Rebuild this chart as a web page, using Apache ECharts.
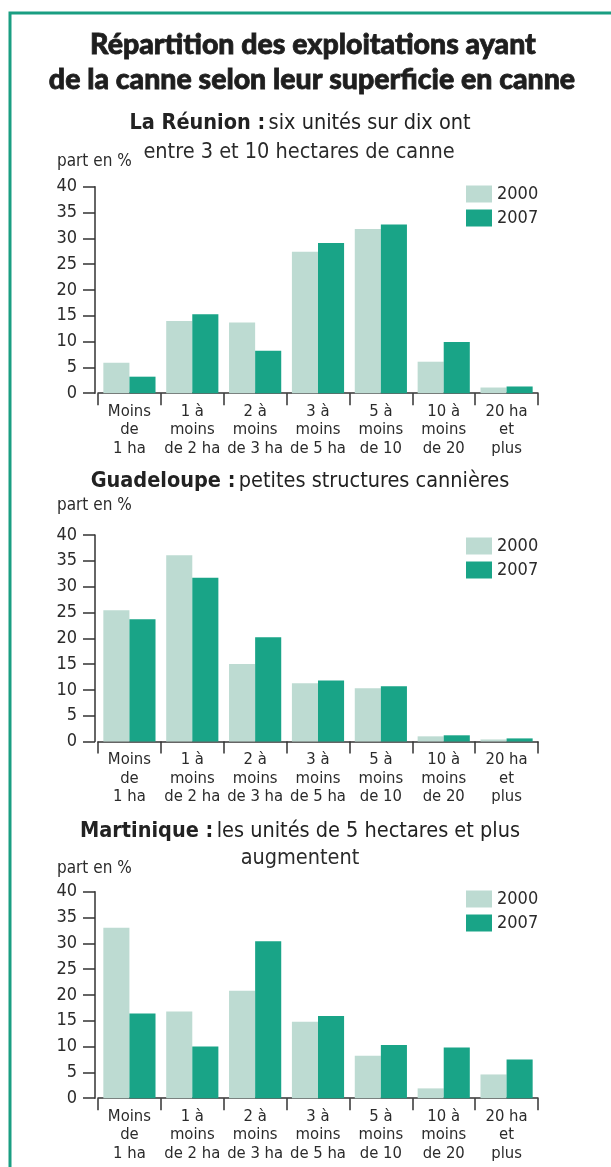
<!DOCTYPE html>
<html>
<head>
<meta charset="utf-8">
<script src="https://cdn.jsdelivr.net/npm/echarts@6/dist/echarts.min.js"></script>
<style>
  html, body { margin: 0; padding: 0; background: #fff; }
  #main { width: 611px; height: 1167px; }
</style>
</head>
<body>
<div id="main"></div>
<script>
// categories (surface en canne)
var categories = [
  "Moins\nde\n1 ha", "1 à\nmoins\nde 2 ha", "2 à\nmoins\nde 3 ha", "3 à\nmoins\nde 5 ha",
  "5 à\nmoins\nde 10", "10 à\nmoins\nde 20", "20 ha\net\nplus"
];
var years = ["2000", "2007"];
var yTicks = [0, 5, 10, 15, 20, 25, 30, 35, 40];

// La Réunion
var reunion2000 = [5.9, 14.0, 13.7, 27.4, 31.8, 6.1, 1.1];
var reunion2007 = [3.2, 15.3, 8.2, 29.1, 32.7, 9.9, 1.3];
// Guadeloupe
var guadeloupe2000 = [25.4, 36.1, 15.0, 11.3, 10.3, 1.0, 0.4];
var guadeloupe2007 = [23.7, 31.7, 20.2, 11.8, 10.7, 1.2, 0.6];
// Martinique
var martinique2000 = [33.0, 16.8, 20.8, 14.8, 8.2, 1.9, 4.6];
var martinique2007 = [16.4, 10.0, 30.4, 15.9, 10.3, 9.8, 7.5];

var lightColor = "#bddbd2";
var darkColor = "#19a487";
var textColor = "#2b2b2b";
var narrow = "'DejaVu Sans Condensed', 'Liberation Sans Narrow', sans-serif";
var titleFont = "'Lato', 'Open Sans', sans-serif";

var chartTops = [186.7, 535, 891.7];
var plotHeight = 206.5;

var mycharts = echarts.init(document.getElementById("main"));

function makeGrid(top) {
  return { left: 98, width: 440, top: top, height: plotHeight };
}

function makeXAxis(i) {
  return {
    type: "category",
    gridIndex: i,
    data: categories,
    axisLine: { lineStyle: { color: "#333", width: 1.5 } },
    axisTick: { show: true, length: 12, interval: 0, lineStyle: { color: "#333", width: 1.5 } },
    axisLabel: {
      interval: 0,
      margin: 9,
      fontFamily: narrow,
      fontSize: 16.5,
      lineHeight: 18.5,
      color: textColor
    },
    splitLine: { show: false }
  };
}

function makeYAxis(i) {
  return {
    type: "value",
    gridIndex: i,
    min: yTicks[0],
    max: yTicks[yTicks.length - 1],
    interval: 5,
    offset: 3,
    axisLine: { show: true, lineStyle: { color: "#333", width: 1.5 } },
    axisTick: { show: true, length: 12, lineStyle: { color: "#333", width: 1.5 } },
    axisLabel: { margin: 18, fontFamily: narrow, fontSize: 18, color: textColor },
    splitLine: { show: false }
  };
}

function makeSeries(i, name, data, color) {
  return {
    name: name,
    type: "bar",
    xAxisIndex: i,
    yAxisIndex: i,
    data: data,
    barGap: "0%",
    barCategoryGap: "17%",
    itemStyle: { color: color },
    animation: false
  };
}

function makeLegend(top) {
  return {
    orient: "vertical",
    left: 466,
    top: top,
    padding: 0,
    itemWidth: 26,
    itemHeight: 17,
    itemGap: 6,
    data: years,
    icon: "rect",
    selectedMode: false,
    textStyle: { fontFamily: narrow, fontSize: 18, color: textColor }
  };
}

function subtitle(y, boldPart, rest) {
  return {
    type: "text",
    x: 300,
    y: y,
    style: {
      text: "{b|" + boldPart + "} {r|" + rest + "}",
      align: "center",
      verticalAlign: "middle",
      rich: {
        b: { fontFamily: narrow, fontWeight: "bold", fontSize: 21.5, fill: "#222" },
        r: { fontFamily: narrow, fontSize: 21.5, fill: "#222" }
      }
    }
  };
}

function plainText(x, y, txt, size, align) {
  return {
    type: "text",
    x: x,
    y: y,
    style: {
      text: txt,
      fontFamily: narrow,
      fontSize: size,
      fill: textColor,
      align: align || "left",
      verticalAlign: "middle"
    }
  };
}

function titleLine(x, y, txt) {
  return {
    type: "text",
    x: x,
    y: y,
    style: {
      text: txt,
      fontFamily: titleFont, fontWeight: 900, fontSize: 28.5,
      fill: "#1e1e1e", stroke: "#1e1e1e", lineWidth: 0.8,
      align: "center", verticalAlign: "middle"
    }
  };
}

var option = {
  backgroundColor: "#fff",
  grid: chartTops.map(makeGrid),
  xAxis: [0, 1, 2].map(makeXAxis),
  yAxis: [0, 1, 2].map(makeYAxis),
  legend: [makeLegend(185), makeLegend(537), makeLegend(890)],
  series: [
    makeSeries(0, years[0], reunion2000, lightColor),
    makeSeries(0, years[1], reunion2007, darkColor),
    makeSeries(1, years[0], guadeloupe2000, lightColor),
    makeSeries(1, years[1], guadeloupe2007, darkColor),
    makeSeries(2, years[0], martinique2000, lightColor),
    makeSeries(2, years[1], martinique2007, darkColor)
  ],
  graphic: [
    // cadre vert
    {
      type: "polyline",
      shape: { points: [[10, 1167], [10, 13], [611, 13]] },
      style: { stroke: "#1a9e82", lineWidth: 3, fill: null }
    },
    titleLine(313, 45, "Répartition des exploitations ayant"),
    titleLine(312, 80, "de la canne selon leur superficie en canne"),
    subtitle(123, "La Réunion :", "six unités sur dix ont"),
    plainText(299, 152, "entre 3 et 10 hectares de canne", 21.5, "center"),
    plainText(57, 162, "part en %", 17),
    subtitle(481, "Guadeloupe :", "petites structures cannières"),
    plainText(57, 506, "part en %", 17),
    subtitle(831, "Martinique :", "les unités de 5 hectares et plus"),
    plainText(300, 858, "augmentent", 21.5, "center"),
    plainText(57, 869, "part en %", 17)
  ]
};

mycharts.setOption(option);
</script>
</body>
</html>
